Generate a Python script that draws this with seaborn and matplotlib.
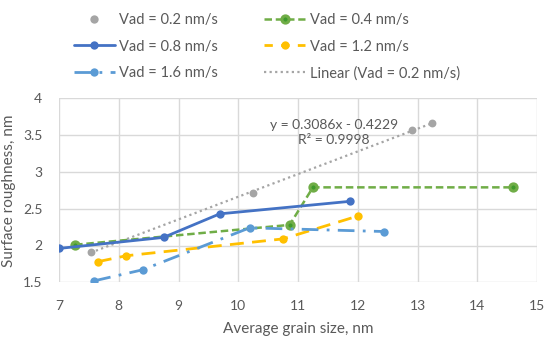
import numpy as np
import matplotlib
matplotlib.use("Agg")
import matplotlib.pyplot as plt
from matplotlib.lines import Line2D
import seaborn as sns
import pandas as pd

# grain size (nm) and surface roughness (nm) per deposition rate
x_02 = [7.53, 10.24, 12.91, 13.25]
y_02 = [1.91, 2.72, 3.57, 3.66]

x_04 = [7.27, 10.86, 11.25, 14.60]
y_04 = [2.01, 2.28, 2.79, 2.79]

x_08 = [7.00, 8.75, 9.69, 11.87]
y_08 = [1.96, 2.11, 2.43, 2.60]

x_12 = [7.65, 8.12, 10.75, 12.00]
y_12 = [1.78, 1.86, 2.09, 2.40]

x_16 = [7.59, 8.40, 10.19, 12.44]
y_16 = [1.52, 1.67, 2.24, 2.19]

labels = ["Vad = 0.2 nm/s", "Vad = 0.4 nm/s", "Vad = 0.8 nm/s",
          "Vad = 1.2 nm/s", "Vad = 1.6 nm/s", "Linear (Vad = 0.2 nm/s)"]
eq_text = "y = 0.3086x - 0.4229\nR\u00b2 = 0.9998"

c_gray = "#A5A5A5"
c_green = "#70AD47"
c_blue = "#4472C4"
c_yellow = "#FFC000"
c_lblue = "#5B9BD5"
txt = "#595959"

sns.set_style("white")
plt.rcParams["font.family"] = ["Lato", "DejaVu Sans"]

fig = plt.figure(figsize=(5.5, 3.37), dpi=100)
ax = fig.add_axes([59 / 550, 1 - 282.3 / 337, (537 - 59) / 550, (282.3 - 98.3) / 337])

# trendline first so it sits under the markers
sns.regplot(x=x_02, y=y_02, ax=ax, scatter=False, ci=None, truncate=True,
            line_kws=dict(color=c_gray, linestyle=(0, (1, 1.5)), linewidth=1.6))

ms = 6
green_kw = dict(marker="o", markersize=5.2, markerfacecolor="#3f9a2c",
                markeredgecolor=c_green, markeredgewidth=2.2)
sns.lineplot(x=x_04, y=y_04, ax=ax, sort=False, color=c_green,
             linestyle=(0, (3, 1.5)), linewidth=1.8, **green_kw)
sns.lineplot(x=x_08, y=y_08, ax=ax, sort=False, color=c_blue,
             linewidth=2, marker="o", markersize=ms, markeredgewidth=0)
sns.lineplot(x=x_12, y=y_12, ax=ax, sort=False, color=c_yellow,
             linestyle=(0, (5, 3)), linewidth=2, marker="o", markersize=ms,
             markeredgewidth=0)
sns.lineplot(x=x_16, y=y_16, ax=ax, sort=False, color=c_lblue,
             linestyle=(0, (6, 3, 1, 3)), linewidth=2, marker="o",
             markersize=ms, markeredgewidth=0)
sns.scatterplot(x=x_02, y=y_02, ax=ax, color=c_gray, s=32, linewidth=0, zorder=5)

ax.text(11.6, 3.54, eq_text, ha="center", va="center", fontsize=10,
        color=txt, linespacing=1.3)

ax.set_xlim(7, 15)
ax.set_ylim(1.5, 4)
ax.set_xticks(range(7, 16))
ax.set_yticks(np.arange(1.5, 4.01, 0.5))
ax.set_yticklabels(["1.5", "2", "2.5", "3", "3.5", "4"])
ax.grid(True, color="#D9D9D9", linewidth=1)
ax.set_axisbelow(True)
for s in ax.spines.values():
    s.set_visible(False)
ax.tick_params(axis="both", length=3, width=1, color="#D9D9D9",
               labelsize=10, labelcolor=txt)
ax.tick_params(axis="x", pad=10)
ax.tick_params(axis="y", pad=9)
ax.set_xlabel("Average grain size, nm", fontsize=11, color=txt, labelpad=7)
ax.set_ylabel("Surface roughness, nm", fontsize=11, color=txt, labelpad=5)

# legend, filled column by column -> order gives row layout of reference
handles = [
    Line2D([], [], linestyle="none", marker="o", color=c_gray, markersize=ms, markeredgewidth=0),
    Line2D([], [], color=c_blue, linewidth=2, marker="o", markersize=ms, markeredgewidth=0),
    Line2D([], [], color=c_lblue, linestyle=(0, (6, 3, 1, 3)), linewidth=2, marker="o",
           markersize=ms, markeredgewidth=0),
    Line2D([], [], color=c_green, linestyle=(0, (3, 1.5)), linewidth=1.8, **green_kw),
    Line2D([], [], color=c_yellow, linestyle=(0, (3, 3)), linewidth=2, marker="o",
           markersize=ms, markeredgewidth=0),
    Line2D([], [], color=c_gray, linestyle=(0, (1, 1.5)), linewidth=1.6),
]
leg_labels = [labels[0], labels[2], labels[4], labels[1], labels[3], labels[5]]
leg = fig.legend(handles, leg_labels, ncol=2, loc="upper center",
                 bbox_to_anchor=(0.485, 1.0), frameon=False, fontsize=10.5,
                 handlelength=2.8, labelspacing=0.85, columnspacing=3.2,
                 handletextpad=0.3)
for t in leg.get_texts():
    t.set_color(txt)

fig.savefig("out.png", dpi=100)
